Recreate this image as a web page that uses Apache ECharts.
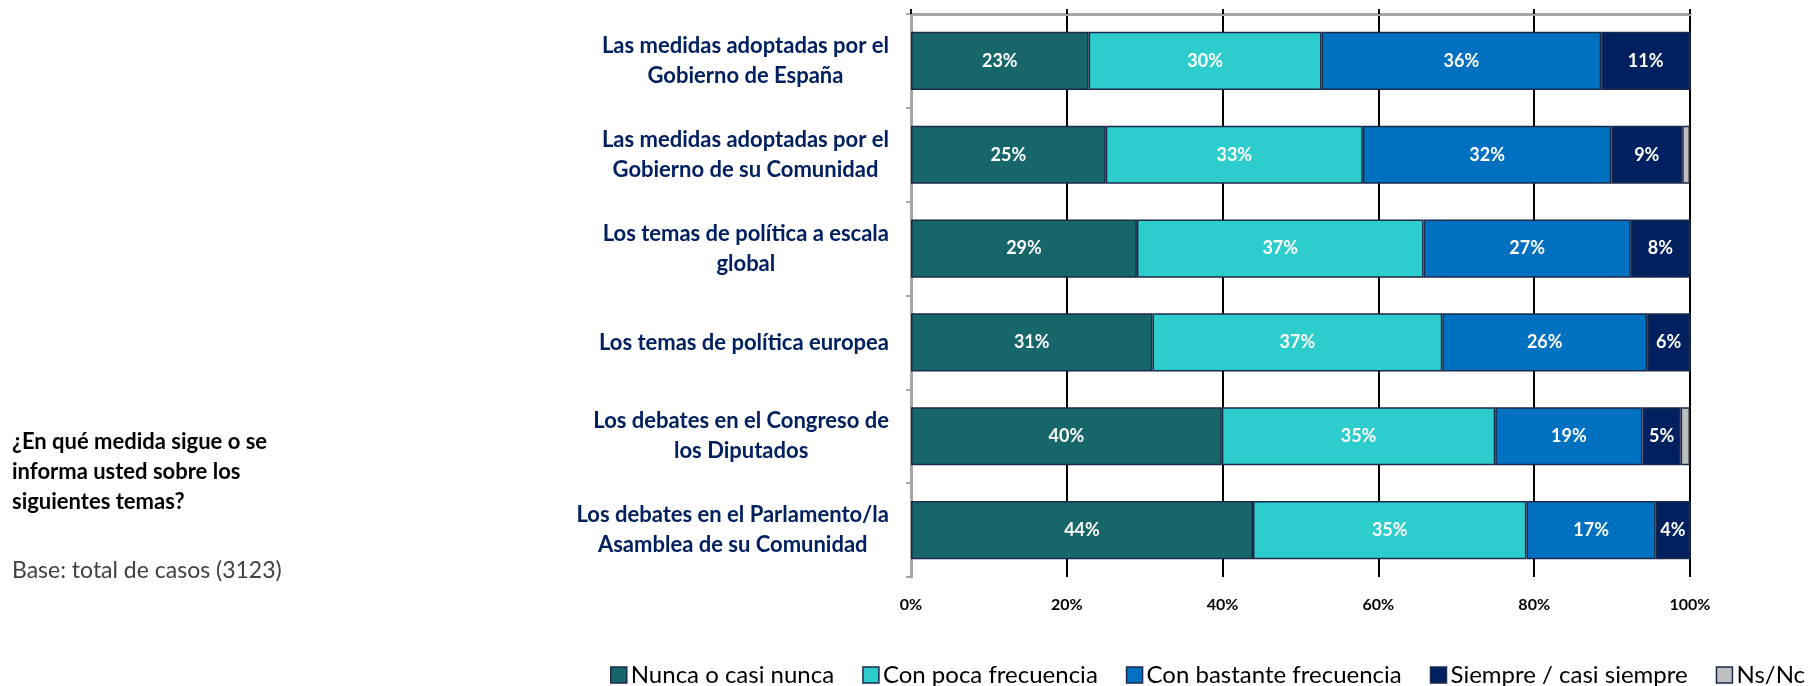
<!DOCTYPE html>
<html>
<head>
<meta charset="utf-8">
<script src="https://cdn.jsdelivr.net/npm/echarts@6/dist/echarts.min.js"></script>
<style>
  html, body { margin: 0; padding: 0; background: #fff; }
  #chart-container { width: 1808px; height: 686px; }
</style>
</head>
<body>
<div id="chart-container"></div>
<script>
const categories = [
    'Las medidas adoptadas por el\nGobierno de España',
    'Las medidas adoptadas por el\nGobierno de su Comunidad',
    'Los temas de política a escala\nglobal',
    'Los temas de política europea',
    'Los debates en el Congreso de\nlos Diputados',
    'Los debates en el Parlamento/la\nAsamblea de su Comunidad'
];
const seriesNames = ['Nunca o casi nunca', 'Con poca frecuencia', 'Con bastante frecuencia', 'Siempre / casi siempre', 'Ns/Nc'];
const nunca = [22.8, 25.0, 29.0, 31.0, 39.9, 43.9];
const pocaFrecuencia = [29.9, 33.0, 36.8, 37.2, 35.1, 35.1];
const bastanteFrecuencia = [35.9, 31.9, 26.6, 26.3, 18.9, 16.6];
const siempre = [11.4, 9.1, 7.6, 5.5, 4.9, 4.4];
const nsnc = [0, 1.0, 0, 0, 1.2, 0];
const xTicks = [0, 20, 40, 60, 80, 100];

const colors = ['#17666A', '#2ECDCD', '#0070C0', '#002060', '#BFBFBF'];
const fontFamily = 'Lato, "Open Sans", sans-serif';

const chartContainer = document.getElementById('chart-container');
const myChart = echarts.init(chartContainer);

const allValues = [nunca, pocaFrecuencia, bastanteFrecuencia, siempre, nsnc];

const series = allValues.map((values, i) => ({
    name: seriesNames[i],
    type: 'bar',
    stack: 'total',
    xAxisIndex: 0,
    barCategoryGap: '38%',
    itemStyle: {
        color: colors[i],
        borderColor: '#1B2A4A',
        borderWidth: 1.5
    },
    label: {
        show: true,
        position: 'inside',
        color: '#fff',
        fontWeight: 'bold',
        fontSize: 18,
        fontFamily: fontFamily,
        formatter: function (p) {
            return p.value >= 3 ? Math.round(p.value) + '%' : '';
        }
    },
    data: values
}));

const options = {
    backgroundColor: '#fff',
    animation: false,
    textStyle: { fontFamily: fontFamily },
    grid: {
        left: 911,
        right: 118,
        top: 14,
        bottom: 109,
        containLabel: false
    },
    legend: {
        left: 605,
        top: 658,
        width: 1500,
        itemWidth: 16,
        itemHeight: 16,
        itemGap: 28,
        icon: 'rect',
        itemStyle: { borderColor: '#1B2A4A', borderWidth: 1.5 },
        textStyle: { fontSize: 24, color: '#000', fontFamily: fontFamily, padding: [0, 0, 0, -1] },
        data: seriesNames
    },
    xAxis: [{
        type: 'value',
        position: 'bottom',
        min: 0,
        max: 100,
        interval: 20,
        axisLine: { show: false },
        axisTick: { show: false },
        splitLine: { show: true, lineStyle: { color: '#000', width: 2 } },
        axisLabel: {
            margin: 20,
            color: '#000',
            fontWeight: 'bold',
            fontSize: 16,
            fontFamily: fontFamily,
            formatter: function (v) { return xTicks.includes(v) ? v + '%' : ''; }
        }
    }, {
        type: 'value',
        position: 'top',
        min: 0,
        max: 100,
        interval: 20,
        axisLine: { show: true, onZero: false, lineStyle: { color: '#A6A6A6', width: 3 } },
        axisTick: { show: true, length: 5, lineStyle: { color: '#000', width: 2 } },
        axisLabel: { show: false },
        splitLine: { show: false }
    }],
    yAxis: {
        type: 'category',
        inverse: true,
        data: categories,
        axisLine: { show: true, lineStyle: { color: '#A6A6A6', width: 3 } },
        axisTick: { show: true, length: 5, lineStyle: { color: '#A6A6A6', width: 2 } },
        axisLabel: {
            margin: 22,
            align: 'right',
            formatter: function (value) {
                return value.split('\n').map(line => '{c|' + line + '}').join('\n');
            },
            rich: {
                c: {
                    align: 'center',
                    color: '#002060',
                    fontWeight: 'bold',
                    fontSize: 22,
                    lineHeight: 30,
                    fontFamily: fontFamily
                }
            }
        }
    },
    graphic: [{
        type: 'text',
        left: 12,
        top: 427,
        style: {
            text: '¿En qué medida sigue o se\ninforma usted sobre los\nsiguientes temas?',
            font: 'bold 22px ' + fontFamily,
            lineHeight: 30,
            fill: '#000'
        }
    }, {
        type: 'text',
        left: 12,
        top: 559,
        style: {
            text: 'Base: total de casos (3123)',
            font: '23px ' + fontFamily,
            fill: '#404040'
        }
    }],
    series: series
};

myChart.setOption(options);

window.addEventListener('resize', function () {
    myChart.resize();
});
</script>
</body>
</html>
